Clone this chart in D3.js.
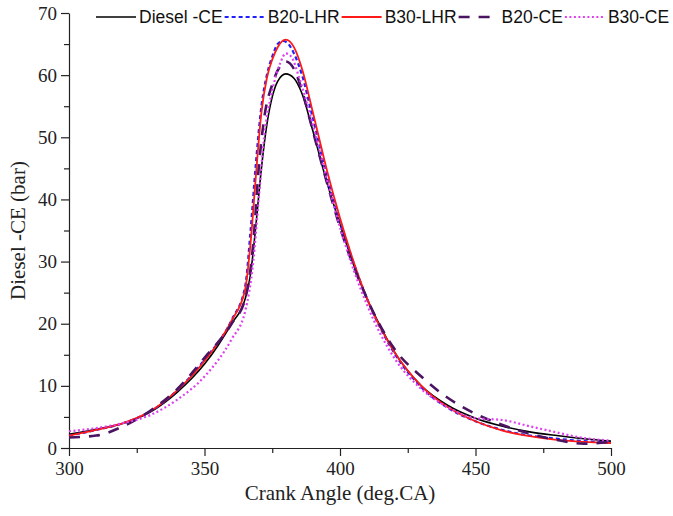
<!DOCTYPE html>
<html>
<head>
<meta charset="utf-8">
<script src="https://cdn.jsdelivr.net/npm/d3@7"></script>
<style>
  body { margin: 0; background: #fff; }
  .tick text { font-family: "Liberation Serif", "Times New Roman", serif; font-size: 19px; fill: #222; }
  .axis-title { font-family: "Liberation Serif", "Times New Roman", serif; font-size: 21px; fill: #222; }
  .legend-label { font-family: "Liberation Sans", Arial, sans-serif; font-size: 17.5px; fill: #111; }
</style>
</head>
<body>
<div id="chart"></div>
<script>
// crank angle grid (deg.CA) and cylinder pressure (bar) per fuel
const angleDiesel = [300, 310, 320, 330, 340, 350, 355, 360, 365, 367, 369, 371, 373, 375, 377, 380, 383, 386, 390, 395, 400, 405, 410, 415, 420, 430, 440, 450, 460, 470, 480, 490, 500];
const diesel      = [2.2, 3.0, 4.0, 5.8, 9.0, 13.5, 16.5, 20, 24, 28, 36, 45, 52, 56.5, 59, 60.2, 59.5, 57, 51, 43, 36, 29.5, 24, 19.5, 15.5, 10, 6.8, 4.8, 3.5, 2.6, 2.0, 1.5, 1.1];

const angleB20LHR = [300, 310, 320, 330, 340, 350, 360, 365, 367, 369, 371, 373, 375, 377, 379, 381, 383, 386, 390, 395, 400, 405, 410, 420, 430, 440, 450, 460, 470, 480, 490, 500];
const b20LHR      = [2.0, 2.9, 4.0, 5.9, 9.3, 14.2, 20.6, 26, 35, 46, 55, 60, 63, 65, 65.5, 65, 63.5, 60, 53, 44, 36.5, 29.8, 24, 15.3, 9.8, 6.4, 4.3, 2.9, 2.0, 1.5, 1.1, 0.9];

const angleB30LHR = [300, 310, 320, 330, 340, 350, 360, 365, 367, 369, 371, 373, 375, 377, 380, 383, 386, 390, 395, 400, 405, 410, 420, 430, 440, 450, 460, 470, 480, 490, 500];
const b30LHR      = [2.0, 2.9, 4.0, 5.9, 9.3, 14, 20.5, 25.5, 33, 44, 54, 59.5, 62.5, 64.5, 65.7, 64.5, 61, 54, 45, 37, 30, 24, 15.5, 10, 6.5, 4.3, 2.8, 1.9, 1.3, 1.0, 0.8];

const angleB20CE  = [300, 310, 320, 330, 340, 350, 360, 365, 368, 370, 372, 375, 378, 380, 383, 386, 390, 395, 400, 410, 420, 430, 440, 450, 460, 470, 480, 490, 500];
const b20CE       = [1.7, 2.0, 3.5, 6.0, 9.5, 14.5, 20, 24, 33, 45, 53, 58.5, 61.5, 62.2, 61, 57.5, 51, 43, 35.5, 24, 16, 11.5, 8, 5.5, 3.7, 2.3, 1.3, 0.7, 1.0];

const angleB30CE  = [300, 310, 320, 330, 340, 350, 360, 365, 368, 370, 372, 375, 378, 380, 382, 385, 390, 395, 400, 410, 420, 430, 440, 450, 460, 470, 480, 490, 500];
const b30CE       = [2.7, 3.2, 4.0, 5.3, 7.8, 11.5, 17.5, 22, 30, 40, 50, 57.5, 62, 63.5, 63, 59.5, 52, 43.5, 35.5, 23, 14.5, 9.5, 6.5, 4.8, 4.5, 3.5, 2.5, 1.6, 1.2];

const seriesNames = ['Diesel -CE', 'B20-LHR', 'B30-LHR', 'B20-CE', 'B30-CE'];
const xTicks = [300, 350, 400, 450, 500];
const yTicks = [0, 10, 20, 30, 40, 50, 60, 70];

const styles = [
  {color: '#000000', width: 1.6, dash: null},
  {color: '#1f1fff', width: 2.2, dash: '4,3'},
  {color: '#ff1a1a', width: 1.8, dash: null},
  {color: '#4a1462', width: 2.6, dash: '11,9'},
  {color: '#e040f0', width: 2.2, dash: '2,2.5'}
];

const series = [
  [angleDiesel, diesel],
  [angleB20LHR, b20LHR],
  [angleB30LHR, b30LHR],
  [angleB20CE, b20CE],
  [angleB30CE, b30CE]
].map(([xs, ys], i) => ({
  name: seriesNames[i],
  style: styles[i],
  values: xs.map((x, j) => ({x: x, y: ys[j]}))
}));

const width = 673, height = 516;
const margin = {top: 13, right: 62, bottom: 68, left: 69};
const innerW = width - margin.left - margin.right;
const innerH = height - margin.top - margin.bottom;

const svg = d3.select('#chart').append('svg')
    .attr('width', width)
    .attr('height', height);

const g = svg.append('g')
    .attr('transform', `translate(${margin.left},${margin.top})`);

const x = d3.scaleLinear().domain([300, 500]).range([0, innerW]);
const y = d3.scaleLinear().domain([0, 70]).range([innerH, 0]);

// minor ticks
g.append('g')
    .attr('transform', `translate(0,${innerH})`)
    .call(d3.axisBottom(x).tickValues([325, 375, 425, 475]).tickSize(5).tickFormat(''))
    .call(a => a.select('.domain').remove());
g.append('g')
    .call(d3.axisLeft(y).tickValues([5, 15, 25, 35, 45, 55, 65]).tickSize(5).tickFormat(''))
    .call(a => a.select('.domain').remove());

// major axes
g.append('g')
    .attr('transform', `translate(0,${innerH})`)
    .call(d3.axisBottom(x).tickValues(xTicks).tickSize(8).tickSizeOuter(0).tickPadding(6));
g.append('g')
    .call(d3.axisLeft(y).tickValues(yTicks).tickSize(8).tickSizeOuter(0).tickPadding(4));

g.selectAll('.domain, .tick line').attr('stroke', '#222').attr('stroke-width', 1.2);

const line = d3.line()
    .x(d => x(d.x))
    .y(d => y(d.y))
    .curve(d3.curveMonotoneX);

g.selectAll('.series')
    .data(series)
  .join('path')
    .attr('class', 'series')
    .attr('fill', 'none')
    .attr('stroke', d => d.style.color)
    .attr('stroke-width', d => d.style.width)
    .attr('stroke-dasharray', d => d.style.dash)
    .attr('d', d => line(d.values));

// axis titles
svg.append('text')
    .attr('class', 'axis-title')
    .attr('text-anchor', 'middle')
    .attr('x', margin.left + innerW / 2)
    .attr('y', 500)
    .text('Crank Angle (deg.CA)');

svg.append('text')
    .attr('class', 'axis-title')
    .attr('text-anchor', 'middle')
    .attr('transform', `translate(25,${margin.top + innerH / 2}) rotate(-90)`)
    .text('Diesel -CE (bar)');

// legend along the top, items placed one after another
const legend = svg.append('g').attr('class', 'legend').attr('transform', 'translate(96,17)');
let cursor = 0;
series.forEach(s => {
  const item = legend.append('g').attr('transform', `translate(${cursor},0)`);
  item.append('line')
      .attr('x1', 0).attr('x2', 40)
      .attr('stroke', s.style.color)
      .attr('stroke-width', s.style.width)
      .attr('stroke-dasharray', s.style.dash);
  const t = item.append('text')
      .attr('class', 'legend-label')
      .attr('x', 43)
      .attr('dy', '0.35em')
      .text(s.name);
  cursor += 43 + t.node().getComputedTextLength() + 2;
});
</script>
</body>
</html>
